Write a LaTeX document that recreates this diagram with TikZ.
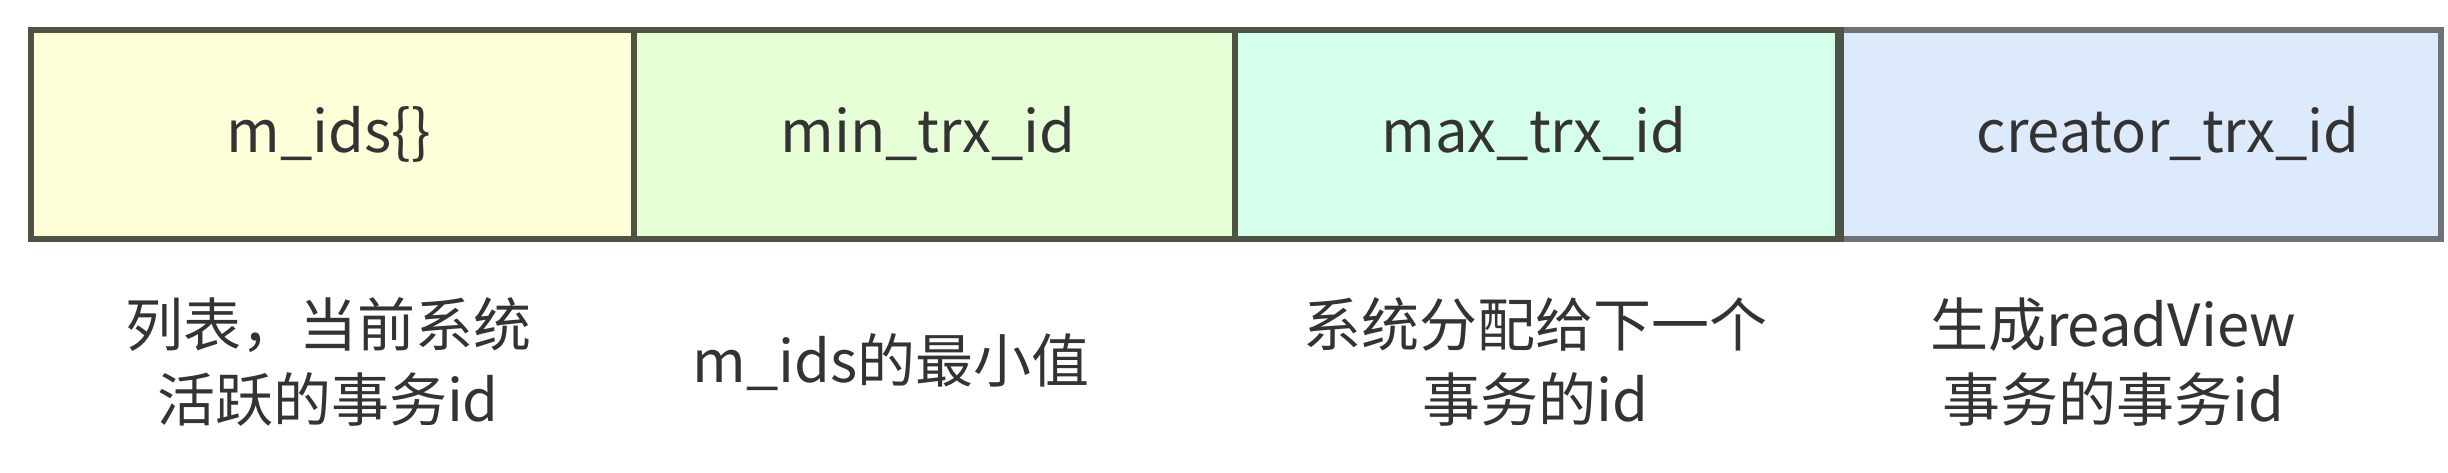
\documentclass[tikz,border=0pt]{standalone}
\usepackage{fontspec}
\newfontfamily\cjk{Noto Sans CJK SC}
\definecolor{cA}{HTML}{FEFFD9}
\definecolor{cB}{HTML}{E6FFD7}
\definecolor{cC}{HTML}{D5FFEA}
\definecolor{cD}{HTML}{DCEAFB}
\definecolor{lineA}{HTML}{4E5444}
\definecolor{lineD}{HTML}{6F7377}
\definecolor{txt}{HTML}{333333}
\begin{document}
\begin{tikzpicture}[x=0.25pt,y=-0.25pt,
  cell/.style={draw=lineA, line width=1.5pt, minimum width=150.75pt, minimum height=52.375pt, inner sep=0pt, anchor=north west},
  toptext/.style={anchor=base, text=txt, inner sep=0pt, font=\cjk\fontsize{14.5}{18.75}\selectfont},
  bottext/.style={anchor=center, align=center, text=txt, inner sep=0pt, font=\cjk\fontsize{14.5}{18.75}\selectfont}]
\useasboundingbox (0,0) rectangle (2448,472);
\fill[white] (0,0) rectangle (2448,472);
\node[cell, fill=cD, draw=lineD] (b4) at (1835,26.5) {};
\node[cell, fill=cA] (b1) at (27.5,26.5) {};
\node[cell, fill=cB] (b2) at (630.5,26.5) {};
\node[cell, fill=cC] (b3) at (1232,26.5) {};
\draw[lineA, line width=1.5pt] (b3.north east) -- (b3.south east);
\node[toptext] (t1) at (329,152) {m\_ids\{\}};
\node[toptext] (t2) at (928,152) {min\_trx\_id};
\node[toptext] (t3) at (1534,152) {max\_trx\_id};
\node[toptext] (t4) at (2168,152) {creator\_trx\_id};
\node[bottext] (d1) at (328,362) {列表，当前系统\\活跃的事务id};
\node[bottext] (d2) at (891,362) {m\_ids的最小值};
\node[bottext] (d3) at (1535,362) {系统分配给下一个\\事务的id};
\node[bottext] (d4) at (2113,362) {生成readView\\事务的事务id};
\end{tikzpicture}
\end{document}
